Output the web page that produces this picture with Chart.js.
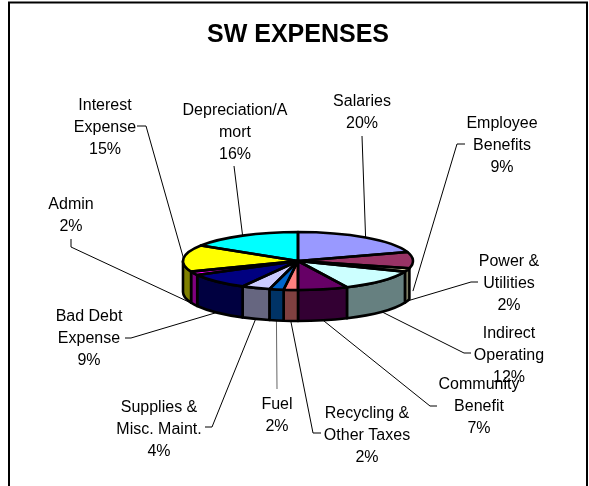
<!DOCTYPE html>
<html>
<head>
<meta charset="utf-8">
<style>html,body{margin:0;padding:0;background:#fff;overflow:hidden}canvas{display:block}</style>
<script src="https://cdn.jsdelivr.net/npm/chart.js@4/dist/chart.umd.min.js"></script>
</head>
<body>
<canvas id="c" width="589" height="486"></canvas>
<script>
const categories = [
  ['Salaries'],
  ['Employee', 'Benefits'],
  ['Power &', 'Utilities'],
  ['Indirect', 'Operating'],
  ['Community', 'Benefit'],
  ['Recycling &', 'Other Taxes'],
  ['Fuel'],
  ['Supplies &', 'Misc. Maint.'],
  ['Bad Debt', 'Expense'],
  ['Admin'],
  ['Interest', 'Expense'],
  ['Depreciation/A', 'mort']
];
const values = [20, 9, 2, 12, 7, 2, 2, 4, 9, 2, 15, 16];
const topColors = ['#9999FF', '#993366', '#FFFFCC', '#CCFFFF', '#660066', '#FF8080',
                   '#0066CC', '#CCCCFF', '#000080', '#FF00FF', '#FFFF00', '#00FFFF'];
const sideColors = ['#4D4D80', '#4D1A33', '#808066', '#668080', '#330033', '#804040',
                    '#003366', '#666680', '#000040', '#800080', '#808000', '#008080'];

/* Label text placement and leader routing: centre x, first line y, elbow points, onSide */
const labelPlacement = [
  {x: 362, y: 102, path: [[362, 136]], onSide: false},
  {x: 502, y: 124, path: [[465, 144], [457, 144]], onSide: true},
  {x: 509, y: 262, path: [[478, 282], [471, 282]], onSide: true},
  {x: 509, y: 334, path: [[471, 353], [464, 353]], onSide: true},
  {x: 479, y: 385, path: [[437, 406], [430, 406]], onSide: true},
  {x: 367, y: 414, path: [[321, 433], [313, 433]], onSide: true},
  {x: 277, y: 405, path: [[277, 389]], onSide: true, color: '#666'},
  {x: 159, y: 408, path: [[205, 427], [212, 427]], onSide: true},
  {x: 89,  y: 317, path: [[125, 338], [131, 338]], onSide: true},
  {x: 71,  y: 205, path: [[71, 239], [71, 247]], onSide: true},
  {x: 105, y: 106, path: [[137, 126], [146, 126]], onSide: false},
  {x: 235, y: 111, path: [[234, 166]], onSide: false}
];
const tilt = 0.252;
const depth = 31;
const lineStep = 21.6;
const outlineWidth = 2.6;
const labelFont = '16px "Liberation Sans", Arial, sans-serif';

const pie3d = {
  id: 'pie3d',
  beforeDraw(chart) {
    const ctx = chart.ctx;
    ctx.save();
    ctx.fillStyle = '#fff';
    ctx.fillRect(0, 0, chart.width, chart.height);
    ctx.strokeStyle = '#000';
    ctx.lineWidth = 2;
    ctx.strokeRect(9, 2.5, 578, 600);
    ctx.restore();
  },
  beforeDatasetsDraw(chart) {
    const ctx = chart.ctx;
    const arcs = chart.getDatasetMeta(0).data;
    const cx = arcs[0].x, cy = arcs[0].y, r = arcs[0].outerRadius, ry = r * tilt;

    // leader lines, anchored on each slice's mid angle
    ctx.save();
    ctx.lineWidth = 1;
    arcs.forEach((arc, i) => {
      const mid = (arc.startAngle + arc.endAngle) / 2;
      const p = labelPlacement[i];
      const ax = cx + r * Math.cos(mid);
      const ay = cy + ry * Math.sin(mid) + (p.onSide ? depth : 0);
      ctx.strokeStyle = p.color || '#000';
      ctx.beginPath();
      ctx.moveTo(p.path[0][0], p.path[0][1]);
      p.path.slice(1).forEach(q => ctx.lineTo(q[0], q[1]));
      ctx.lineTo(ax, ay);
      ctx.stroke();
    });
    ctx.restore();

    // outer wall of the visible front half
    ctx.save();
    ctx.strokeStyle = '#000';
    ctx.lineWidth = outlineWidth;
    ctx.lineJoin = 'round';
    arcs.forEach((arc, i) => {
      const twoPi = Math.PI * 2;
      let a0 = arc.startAngle, a1 = arc.endAngle;
      const shift = Math.floor(a0 / twoPi) * twoPi;
      a0 -= shift; a1 -= shift;
      const s = Math.max(a0, 0), e = Math.min(a1, Math.PI);
      if (e <= s) return;
      ctx.beginPath();
      ctx.ellipse(cx, cy, r, ry, 0, s, e, false);
      ctx.ellipse(cx, cy + depth, r, ry, 0, e, s, true);
      ctx.closePath();
      ctx.fillStyle = sideColors[i];
      ctx.fill();
      ctx.stroke();
    });
    ctx.restore();

    // flatten the library's pie into the tilted top face
    ctx.save();
    ctx.translate(cx, cy);
    ctx.scale(1, tilt);
    ctx.translate(-cx, -cy);
  },
  afterDatasetsDraw(chart) {
    const ctx = chart.ctx;
    ctx.restore();
    const arcs = chart.getDatasetMeta(0).data;
    const cx = arcs[0].x, cy = arcs[0].y, r = arcs[0].outerRadius, ry = r * tilt;

    ctx.save();
    ctx.strokeStyle = '#000';
    ctx.lineWidth = outlineWidth;
    ctx.lineJoin = 'round';
    arcs.forEach(arc => {
      ctx.beginPath();
      ctx.moveTo(cx, cy);
      ctx.ellipse(cx, cy, r, ry, 0, arc.startAngle, arc.endAngle, false);
      ctx.closePath();
      ctx.stroke();
    });
    ctx.restore();

    ctx.save();
    ctx.font = labelFont;
    ctx.fillStyle = '#000';
    ctx.textAlign = 'center';
    ctx.textBaseline = 'middle';
    categories.forEach((lines, i) => {
      const p = labelPlacement[i];
      lines.concat(values[i] + '%').forEach((t, j) => ctx.fillText(t, p.x, p.y + j * lineStep));
    });
    ctx.restore();
  }
};

new Chart(document.getElementById('c'), {
  type: 'pie',
  data: {
    labels: categories.map(c => c.join(' ')),
    datasets: [{data: values, backgroundColor: topColors, borderWidth: 0, clip: false}]
  },
  options: {
    responsive: false,
    animation: false,
    layout: {padding: {left: 183, right: 176, top: 0, bottom: 110}},
    plugins: {
      legend: {display: false},
      tooltip: {enabled: false},
      title: {
        display: true,
        text: 'SW EXPENSES',
        fullSize: false,
        color: '#000',
        font: {family: '"Liberation Sans", Arial, sans-serif', size: 25, weight: 'bold', lineHeight: 1.2},
        padding: {top: 20, bottom: 96}
      }
    }
  },
  plugins: [pie3d]
});
</script>
</body>
</html>
